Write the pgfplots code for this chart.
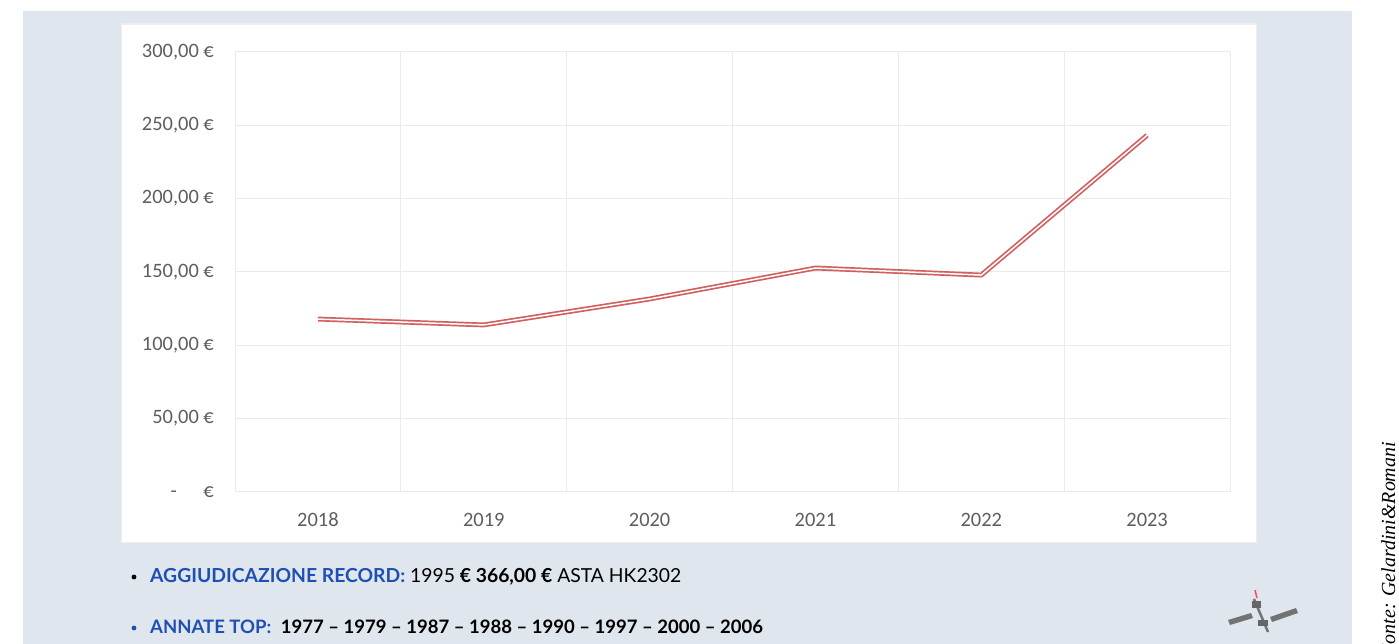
\documentclass[border=0pt]{standalone}
\usepackage{pgfplots}
\pgfplotsset{compat=1.18}
\usepackage{fontspec}
\setmainfont{Lato}
\newfontfamily\carlito{Carlito}
\newfontfamily\seriff{Liberation Serif}
\definecolor{bg}{HTML}{DFE6EE}
\definecolor{lblue}{HTML}{1E50B4}
\definecolor{linered}{HTML}{D25F5F}
\definecolor{gridc}{HTML}{EBEBEB}
\definecolor{tickc}{HTML}{5E5E5E}
\begin{document}
\begin{tikzpicture}
\begin{scope}[x=1bp,y=1bp]
\path[use as bounding box] (0,0) rectangle (1399,644);
\clip (0,0) rectangle (1399,644);
\fill[white] (0,0) rectangle (1399,644);
\fill[bg] (23,0) rectangle (1352,633);
\fill[black!7] (121,101) rectangle (1257,620.5);
\fill[white] (122,102) rectangle (1256,619);
\end{scope}
\begin{axis}[
  at={(235bp,152.3bp)}, anchor=south west,
  scale only axis, width=995bp, height=440bp,
  xmin=-0.5, xmax=5.5, ymin=0, ymax=300,
  xtick={0,1,2,3,4,5},
  xticklabels={2018,2019,2020,2021,2022,2023},
  minor xtick={-0.5,0.5,1.5,2.5,3.5,4.5,5.5},
  xminorgrids, ymajorgrids,
  ytick={0,50,100,150,200,250,300},
  yticklabels={{-\hspace{1.3em}€},{50,00 €},{100,00 €},{150,00 €},{200,00 €},{250,00 €},{300,00 €}},
  major grid style={draw=gridc, line width=1bp},
  minor grid style={draw=gridc, line width=1bp},
  axis line style={draw=none},
  tick style={draw=none},
  ticklabel style={font=\carlito\fontsize{20.5}{22}\selectfont, text=tickc},
  yticklabel style={anchor=east, inner sep=0pt, xshift=-21bp},
  xticklabel style={anchor=north, inner sep=0pt, yshift=-21bp},
  clip=false,
]
\addplot[draw=linered, line width=1.7bp, double=white, double distance=1.5bp, line join=round, no markers]
  coordinates {(0,117.7)(1,113.7)(2,131.4)(3,152.5)(4,147.7)(5,243)};
\end{axis}
\begin{scope}[x=1bp,y=1bp]
\clip (0,0) rectangle (1399,644);
% bottom notes
\fill[black] (134,67) circle (2.4);
\node[anchor=base west, inner sep=0pt] at (150,61) {\fontsize{19.4}{22}\selectfont \textcolor{lblue}{\bfseries AGGIUDICAZIONE RECORD:} 1995 {\bfseries € 366,00 €} ASTA HK2302};
\fill[lblue] (134,16) circle (2.4);
\node[anchor=base west, inner sep=0pt] at (150,10) {\fontsize{18.6}{22}\selectfont \textcolor{lblue}{\bfseries ANNATE TOP:}\ \ {\bfseries 1977 – 1979 – 1987 – 1988 – 1990 – 1997 – 2000 – 2006}};
% logo
\fill[black!55] (1228,24) -- (1251,31) -- (1253,26) -- (1230,19) -- cycle;
\fill[black!55] (1270,27) -- (1296,36) -- (1298,31) -- (1272,22) -- cycle;
\draw[black!55, line width=2.5bp] (1254,45) -- (1268,12);
\fill[black!60] (1252,43) rectangle (1261,36);
\fill[black!60] (1258,24) rectangle (1268,18);
\draw[red!70, line width=1.5bp] (1255,54) -- (1257,46);
% source
\node[rotate=90, anchor=base east, inner sep=0pt, font=\seriff\itshape\fontsize{20}{20}\selectfont] at (1395,202) {Fonte: Gelardini\&Romani};
\end{scope}
\end{tikzpicture}
\end{document}
